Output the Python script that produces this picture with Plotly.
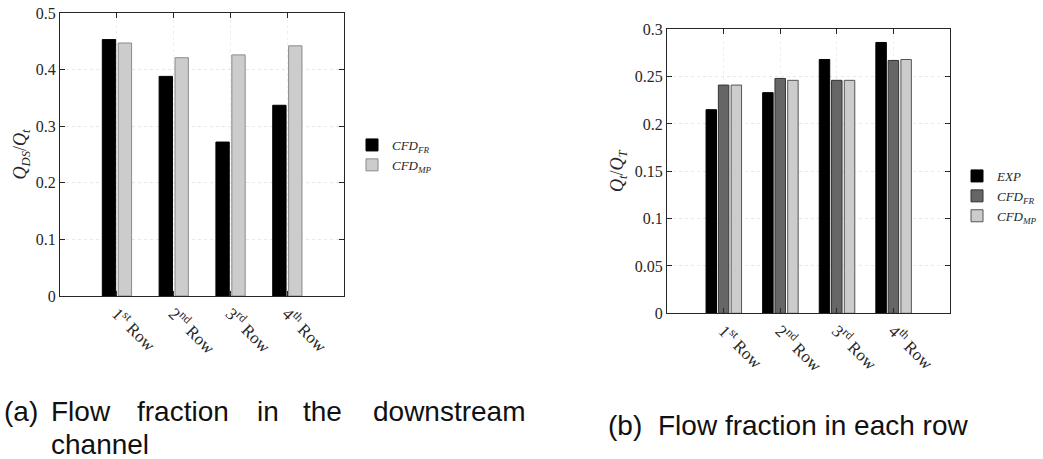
import plotly.graph_objects as go

W, H = 1043, 459

# ---------------- data ----------------
rows = ["1<sup>st</sup> Row", "2<sup>nd</sup> Row", "3<sup>rd</sup> Row", "4<sup>th</sup> Row"]

# (a) downstream channel flow fraction
a_cfd_fr = [0.453, 0.388, 0.272, 0.337]
a_cfd_mp = [0.447, 0.421, 0.426, 0.442]

# (b) flow fraction in each row
b_exp = [0.215, 0.233, 0.268, 0.286]
b_cfd_fr = [0.241, 0.248, 0.246, 0.267]
b_cfd_mp = [0.241, 0.246, 0.246, 0.268]

a_yticks = [0, 0.1, 0.2, 0.3, 0.4, 0.5]
b_yticks = [0, 0.05, 0.1, 0.15, 0.2, 0.25, 0.3]

# ---------------- styling ----------------
SERIF = "Liberation Serif, Times New Roman, serif"
SANS = "Liberation Sans, Arial, sans-serif"
AX = "#262626"

def px_x(x):
    return x / W

def px_y(y):
    return 1 - y / H

fig = go.Figure()

# left chart
fig.add_trace(go.Bar(x=rows, y=a_cfd_fr, name="<i>CFD</i><sub><i>FR</i></sub>",
                     marker=dict(color="#000000", line=dict(color="#000000", width=1)),
                     width=0.235, offset=-0.255, xaxis="x", yaxis="y", legend="legend"))
fig.add_trace(go.Bar(x=rows, y=a_cfd_mp, name="<i>CFD</i><sub><i>MP</i></sub>",
                     marker=dict(color="#cccccc", line=dict(color="#8a8a8a", width=1)),
                     width=0.235, offset=0.025, xaxis="x", yaxis="y", legend="legend"))

# right chart
fig.add_trace(go.Bar(x=rows, y=b_exp, name="<i>EXP</i>",
                     marker=dict(color="#000000", line=dict(color="#000000", width=1)),
                     width=0.185, offset=-0.31, xaxis="x2", yaxis="y2", legend="legend2"))
fig.add_trace(go.Bar(x=rows, y=b_cfd_fr, name="<i>CFD</i><sub><i>FR</i></sub>",
                     marker=dict(color="#666666", line=dict(color="#333333", width=1)),
                     width=0.185, offset=-0.0925, xaxis="x2", yaxis="y2", legend="legend2"))
fig.add_trace(go.Bar(x=rows, y=b_cfd_mp, name="<i>CFD</i><sub><i>MP</i></sub>",
                     marker=dict(color="#cccccc", line=dict(color="#555555", width=1)),
                     width=0.185, offset=0.1325, xaxis="x2", yaxis="y2", legend="legend2"))

common_x = dict(type="category", range=[-1, 4], tickangle=45,
                tickfont=dict(family=SERIF, size=17, color=AX),
                showline=True, linecolor=AX, linewidth=1, mirror="ticks",
                ticks="inside", ticklen=5, tickcolor=AX,
                showgrid=True, gridcolor="#efefef", griddash="dot", gridwidth=1,
                zeroline=False, automargin=False, fixedrange=True)
common_y = dict(tickfont=dict(family=SERIF, size=16, color=AX),
                showline=True, linecolor=AX, linewidth=1, mirror="ticks",
                ticks="inside", ticklen=5, tickcolor=AX,
                showgrid=True, gridcolor="#e8e8e8", griddash="dot", gridwidth=1,
                zeroline=False, automargin=False, fixedrange=True)

fig.update_layout(
    width=W, height=H,
    margin=dict(l=0, r=0, t=0, b=0),
    paper_bgcolor="white", plot_bgcolor="white",
    barmode="group",
    xaxis=dict(domain=[px_x(60), px_x(344)], anchor="y", **common_x),
    yaxis=dict(domain=[px_y(296), px_y(13)], anchor="x", range=[0, 0.5],
               tickvals=a_yticks,
               title=dict(text="<i>Q</i><sub><i>DS</i></sub>/<i>Q</i><sub><i>t</i></sub>",
                          font=dict(family=SERIF, size=18, color=AX), standoff=4),
               **common_y),
    xaxis2=dict(domain=[px_x(667), px_x(950)], anchor="y2", **common_x),
    yaxis2=dict(domain=[px_y(313.3), px_y(29.2)], anchor="x2", range=[0, 0.3],
                tickvals=b_yticks,
                title=dict(text="<i>Q</i><sub><i>t</i></sub>/<i>Q</i><sub><i>T</i></sub>",
                           font=dict(family=SERIF, size=18, color=AX), standoff=6),
                **common_y),
    legend=dict(x=px_x(352), y=px_y(130), xanchor="left", yanchor="top",
                bgcolor="rgba(0,0,0,0)", borderwidth=0, tracegroupgap=0,
                font=dict(family=SERIF, size=13, color=AX), itemwidth=30),
    legend2=dict(x=px_x(957), y=px_y(161), xanchor="left", yanchor="top",
                 bgcolor="rgba(0,0,0,0)", borderwidth=0, tracegroupgap=0,
                 font=dict(family=SERIF, size=13, color=AX), itemwidth=30),
    showlegend=True,
)

# captions
cap_font = dict(family=SANS, size=28, color="#111111")
cap_a1 = [("(a)", 2.7), ("Flow", 50), ("fraction", 136), ("in", 255.5), ("the", 301.7),
          ("downstream", 371.7)]
annotations = []
for word, xp in cap_a1:
    annotations.append(dict(text=word, x=px_x(xp), y=px_y(421), xref="paper", yref="paper",
                            xanchor="left", yanchor="bottom", showarrow=False, font=cap_font,
                            borderpad=0, yshift=-7))
annotations.append(dict(text="channel", x=px_x(50), y=px_y(454), xref="paper", yref="paper",
                        xanchor="left", yanchor="bottom", showarrow=False, font=cap_font,
                        borderpad=0, yshift=-7))
annotations.append(dict(text="(b)", x=px_x(606.7), y=px_y(435), xref="paper", yref="paper",
                        xanchor="left", yanchor="bottom", showarrow=False, font=cap_font,
                        borderpad=0, yshift=-7))
annotations.append(dict(text="Flow fraction in each row", x=px_x(656.7), y=px_y(435),
                        xref="paper", yref="paper", xanchor="left", yanchor="bottom",
                        showarrow=False, font=cap_font, borderpad=0, yshift=-7))
fig.update_layout(annotations=annotations)

fig.write_html("out.html")
